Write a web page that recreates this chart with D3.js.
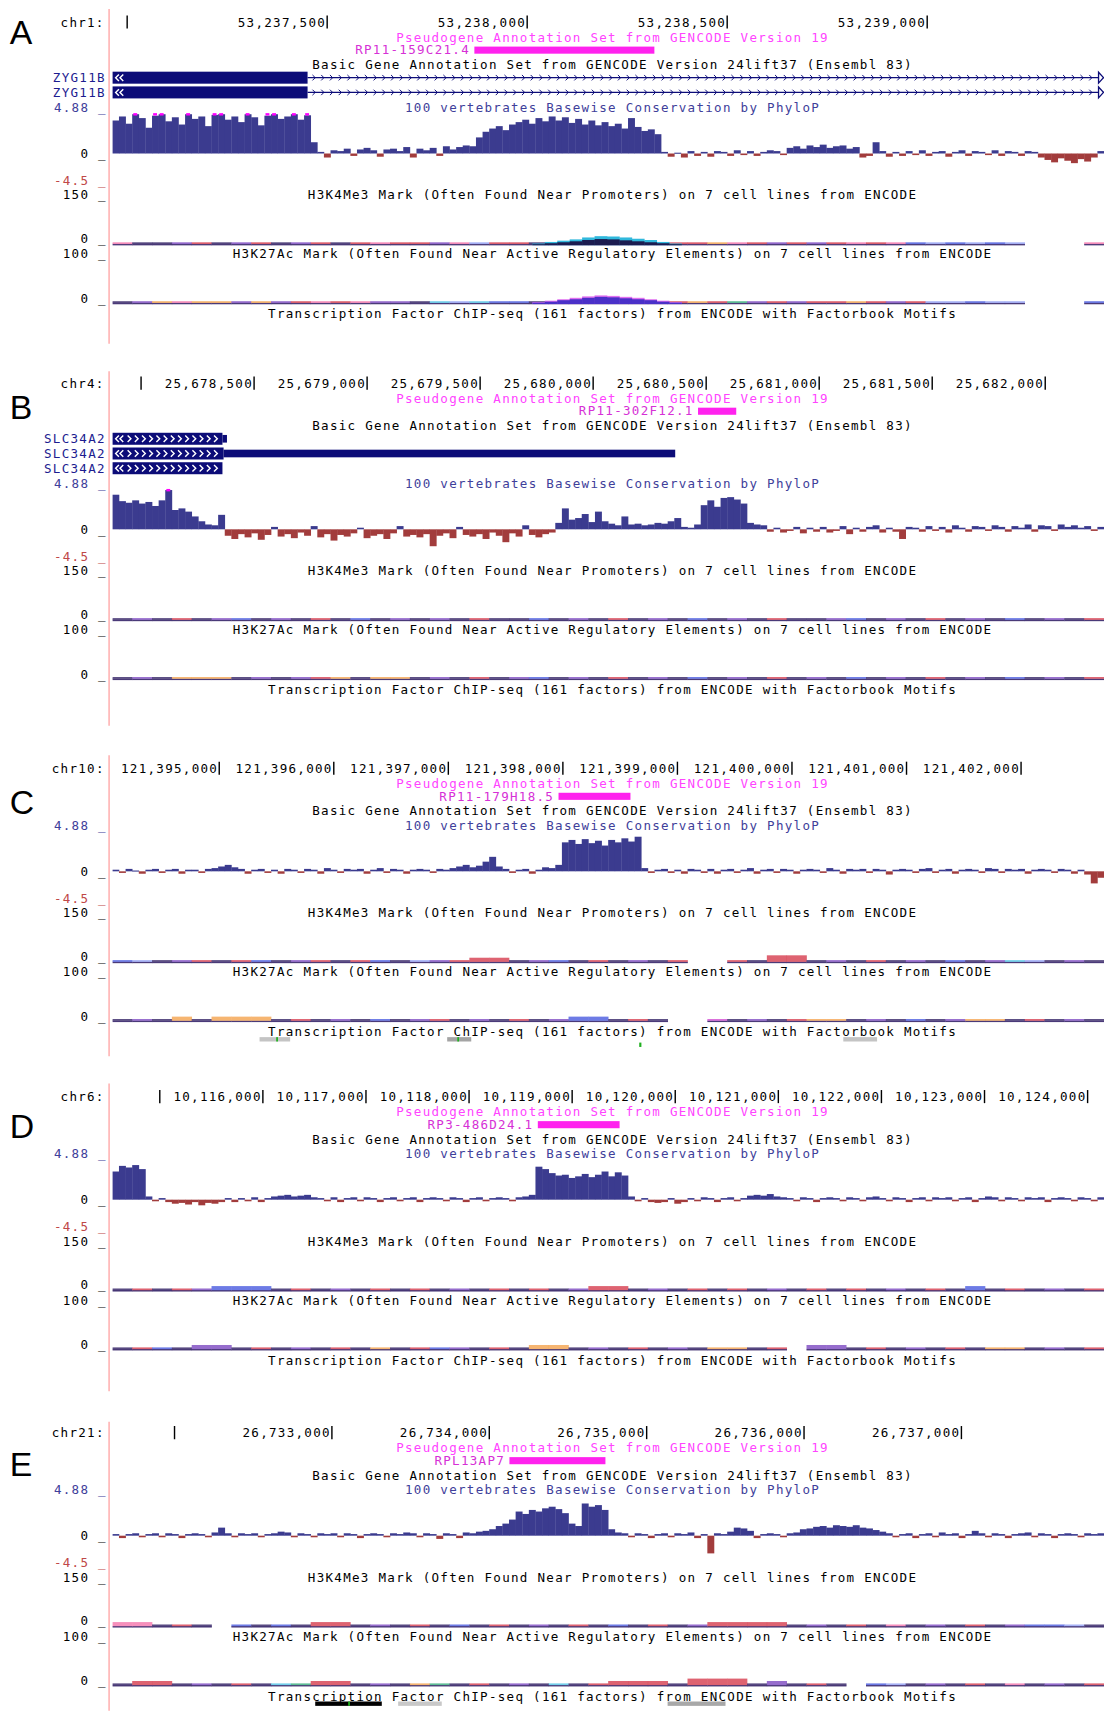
<!DOCTYPE html>
<html>
<head>
<meta charset="utf-8">
<script src="https://cdn.jsdelivr.net/npm/d3@7"></script>
<style>
body { margin: 0; background: #fff; }
svg text { font-family: "DejaVu Sans Mono", monospace; }
svg text.letter { font-family: "Liberation Sans", Arial, sans-serif; }
</style>
</head>
<body>
<div id="chart"></div>
<script>
// ---- data (one browser screenshot per panel) ----
const panelLetters = ["A", "B", "C", "D", "E"]
const chroms = ["chr1", "chr4", "chr10", "chr6", "chr21"]
const viewStart = [53236963, 25677873, 121394067, 10114540, 26731605]
const viewEnd = [53239442, 25682260, 121402724, 10124159, 26737906]
const tickStep = [500, 500, 1000, 1000, 1000]

const pseudoNames = ["RP11-159C21.4", "RP11-302F12.1", "RP11-179H18.5", "RP3-486D24.1", "RPL13AP7"]
const pseudoStart = [53237868, 25680464, 121397962, 10118667, 26734128]
const pseudoEnd = [53238318, 25680633, 121398590, 10119460, 26734738]

// basic gene models (only A and B have genes in view)
const genesA = [
    {name: "ZYG11B", exonEnd: 53237451, intron: true},
    {name: "ZYG11B", exonEnd: 53237451, intron: true}
]
const genesB = [
    {name: "SLC34A2", exonEnd: 25678360, utrEnd: 25678380},
    {name: "SLC34A2", exonEnd: 25678365, utrEnd: 25680363},
    {name: "SLC34A2", exonEnd: 25678360}
]

// phyloP, one value per equal window across the view
const phyloA = [4.1,4.6,3.7,4.88,4.4,3.2,4.7,4.88,4.0,4.5,3.6,4.88,4.3,4.6,3.4,4.8,4.88,4.2,4.6,3.9,4.88,4.5,3.5,4.7,4.88,4.3,4.6,4.88,4.2,4.75,
    1.4,
    0.2,-0.5,0.4,0.3,0.6,-0.3,0.5,0.7,0.4,-0.4,0.5,0.6,0.3,0.8,-0.5,0.6,0.4,0.7,-0.3,0.9,0.5,0.8,1.0,0.9,
    2.0,2.7,3.1,3.4,2.9,3.6,3.9,4.2,3.7,4.4,4.0,4.6,4.1,4.5,3.8,4.3,3.6,4.1,3.5,3.9,3.4,3.7,3.1,4.4,3.3,2.8,3.0,2.4,
    0.2,-0.4,0.1,-0.5,0.3,-0.3,0.2,-0.4,0.3,0.2,-0.3,0.4,-0.2,0.3,-0.3,0.2,0.4,0.3,-0.2,
    0.7,0.9,0.6,1.0,0.8,1.1,0.7,0.9,1.0,0.6,0.8,
    -0.5,-0.3,1.4,0.3,-0.4,0.2,-0.3,0.3,-0.2,0.4,-0.3,0.2,0.3,-0.4,0.2,0.4,-0.3,0.3,0.2,-0.2,0.4,-0.3,0.3,
    0.2,-0.3,0.3,0.2,
    -0.5,-0.8,-1.1,-0.6,-0.9,-1.2,-0.7,-1.0,-0.5,0.3]
const phyloB = [4.3,3.5,3.3,3.6,3.2,3.4,2.9,3.6,4.88,2.4,2.6,2.2,1.6,1.0,0.6,0.5,1.8,
    -0.8,-1.2,-0.6,-1.0,-0.5,-1.3,-0.7,0.3,-0.9,-0.6,-1.1,-0.4,-0.8,0.4,-1.0,-0.6,-1.4,-0.7,-0.9,-0.5,0.2,-1.1,-0.8,-0.6,-1.2,-0.5,0.4,-0.9,-0.7,-1.0,-0.6,-2.1,-0.8,-0.5,-1.1,0.3,-0.7,-0.9,-0.6,-1.2,-0.4,-0.8,-1.6,-0.5,-0.9,0.5,-0.7,-1.0,-0.6,-0.4,
    0.8,2.6,1.2,1.4,1.9,0.9,2.2,1.0,0.7,
    0.5,1.6,0.6,0.7,0.5,0.6,0.8,0.7,1.0,1.4,0.3,0.2,0.6,
    3.0,3.6,2.8,3.9,4.0,3.7,3.2,
    0.8,0.6,0.5,
    -0.3,0.2,-0.4,-0.2,0.3,-0.5,0.2,-0.3,0.3,-0.4,-0.2,0.4,-0.6,0.2,-0.3,0.3,0.5,-0.4,0.2,-0.3,-1.2,0.3,0.2,-0.3,0.4,-0.2,0.3,-0.4,0.5,0.2,-0.3,0.4,0.3,-0.2,0.5,0.3,-0.3,0.4,0.2,0.6,-0.3,0.5,0.4,-0.2,0.6,0.3,0.5,0.2,0.4,-0.2,0.3]
const phyloC = [0.2,-0.2,0.3,0.1,-0.3,0.2,0.3,-0.2,0.2,0.3,-0.3,0.2,0.2,-0.2,0.3,0.4,0.6,0.8,0.5,0.3,-0.3,0.2,0.3,-0.2,0.2,-0.3,0.3,0.2,-0.2,0.3,0.2,-0.3,0.4,0.2,-0.2,0.3,0.2,0.3,-0.3,0.2,0.4,-0.2,0.3,0.2,-0.3,0.2,0.3,0.2,-0.2,0.3,0.2,0.4,
    0.6,0.8,0.5,0.7,1.2,1.8,0.6,
    0.3,-0.2,0.2,0.3,-0.3,0.2,0.5,0.4,0.8,
    3.6,3.9,3.4,4.0,3.5,3.8,3.2,3.9,3.6,4.1,3.7,4.3,
    0.4,-0.2,0.2,0.3,-0.2,0.2,-0.3,0.3,0.2,-0.2,0.3,-0.3,0.2,0.3,-0.2,0.2,0.4,-0.3,0.2,0.3,-0.2,0.3,0.2,-0.3,0.2,0.3,0.2,-0.2,0.4,0.2,-0.3,0.3,0.2,0.3,-0.2,0.3,0.2,-0.4,0.2,0.3,0.2,-0.2,0.3,0.4,-0.2,0.2,0.3,-0.3,0.2,0.3,0.2,-0.2,0.4,0.3,-0.2,0.3,0.2,0.3,-0.3,0.2,0.3,0.2,-0.2,0.3,0.2,-0.3,0.2,-0.4,-1.5,-0.8]
const phyloD = [3.5,4.2,4.0,4.3,3.8,
    0.4,-0.2,0.2,-0.3,-0.5,-0.4,-0.6,-0.3,-0.7,-0.4,-0.5,-0.3,0.2,-0.3,0.2,-0.2,0.3,-0.3,0.2,0.4,0.5,0.6,0.4,0.5,0.6,0.3,0.2,-0.2,0.3,-0.3,0.2,0.3,-0.2,0.3,0.2,-0.3,0.2,0.3,-0.2,0.2,0.3,-0.3,0.2,0.3,0.2,-0.2,0.3,0.2,-0.3,0.2,0.3,-0.2,0.2,0.3,0.2,-0.2,0.3,0.4,0.6,
    4.1,3.8,3.3,3.0,3.1,2.7,2.9,3.2,2.8,3.1,3.5,2.9,3.4,3.0,
    0.4,-0.2,0.2,-0.3,-0.4,-0.3,0.2,-0.5,-0.3,0.2,-0.2,0.3,0.2,-0.3,0.2,0.3,-0.2,0.2,0.5,0.6,0.5,0.7,0.4,0.3,0.2,-0.2,0.3,0.2,-0.3,0.2,0.3,0.2,-0.2,0.3,0.2,-0.2,0.3,0.4,0.2,-0.2,0.3,0.2,-0.3,0.2,0.3,-0.2,0.3,0.2,0.3,-0.2,0.2,0.3,-0.3,0.2,0.4,0.3,-0.2,0.3,0.2,-0.2,0.3,0.2,0.3,-0.3,0.2,0.3,0.2,-0.2,0.3,0.2,-0.2,0.3]
const phyloE = [0.2,-0.3,0.2,0.3,-0.2,0.2,0.3,-0.2,0.3,0.2,-0.3,0.2,0.3,0.2,-0.2,0.4,1.0,0.3,-0.2,0.3,0.2,0.3,-0.2,0.2,0.3,0.5,0.4,-0.2,0.3,0.2,-0.2,0.3,0.2,0.3,-0.2,0.3,0.2,-0.3,0.2,0.3,0.2,-0.2,0.3,0.2,0.4,0.3,-0.2,0.3,0.2,-0.4,0.3,0.2,-0.3,0.4,0.3,0.5,
    0.6,0.8,1.2,1.5,2.0,
    3.0,2.7,3.2,3.0,3.4,3.6,3.3,2.8,
    1.5,1.2,
    4.0,3.6,3.8,3.2,
    0.8,
    0.4,0.3,-0.2,0.3,0.2,-0.3,0.2,0.3,-0.2,0.3,0.2,0.4,-0.3,0.2,-2.2,0.3,0.2,0.5,1.0,0.9,0.6,-0.3,0.2,0.3,0.2,-0.2,0.3,0.4,
    0.8,0.9,1.1,1.2,1.0,1.3,1.2,1.1,1.3,1.0,0.9,0.7,0.5,
    0.3,-0.2,0.2,0.3,-0.3,0.2,0.3,-0.2,0.4,0.2,0.3,-0.3,0.2,0.6,0.3,-0.2,0.3,0.2,-0.3,0.2,0.3,0.4,-0.2,0.3,0.2,-0.3,0.2,0.3,0.2,-0.2,0.3,0.2,0.3]

// ENCODE overlay tracks: dominant colour per window ("." = no data) and coarse level
const k4Colors = [
    "pnnurnurnurnrprruplrrnnnnnnnrroprururprpblblbl...p",
    "nunrnubnunrnbnununrnnbnunrnunbnunrnnubnunrnunbnunr",
    "blnurnrbnurnrbnlurrrnubnrnunr..rnrrnunrnunbnuclnun",
    "nrnrubbbnrnunrnrnunrnrnurrnunrnrnunrnrnunrnbnrnunr",
    "ppnrn.bnbnrrnunrnbnrnunrnbnrnurrrrnunrnpnunrnubbln"
]
const k4Levels = ["", "",
    "00000000000000000011000000000000022000000000000000",
    "00000111000000000000000011000000000000000001000000",
    "11000000001100000000000000000011110000000000000000"]
const k27Colors = [
    "nuopoouourprpuunclcbbnnnnnnnrorgururrorurllbll...b",
    "nunooonunuronoonunrnubnunrnunbnunrnunbnunrnunbnunr",
    "nunonooonrnunbnurnunrnubbnrn..mnunroonunbnuoonrnun",
    "nrbnuunrnunrnonrbunrnoonunrnunoonr.uunrnunrnoonunr",
    "nrrnunrncgrrnunognrnuncnrrrrnrrrnunrn.blnunrnpnunr"
]
const k27Levels = ["", "",
    "00010111000000000000000110000000000000000000000000",
    "00001100000000000000011000000000000110000000000000",
    "01100000001100000000000001110222010000000000000000"]

// panel A: the two histone peaks over the pseudogene
const peakStartA = 53238013
const peakEndA = 53238386
const k4CyanA = [5, 10, 14, 18, 24, 28, 27, 24, 20, 16, 10, 5]
const k4DarkA = [3, 6, 9, 12, 16, 19, 18, 15, 12, 9, 6, 3]
const k27PinkA = [4, 7, 10, 13, 16, 18, 17, 15, 13, 10, 7, 4]
const k27BlueA = [3, 5, 8, 10, 13, 15, 14, 12, 10, 8, 5, 3]

// TF clusters shown under the TF label (C and E)
const tfItemsC = [[121395352, 121395619, "#c4c4c4"], [121396990, 121397200, "#a4a4a4"], [121400448, 121400743, "#c4c4c4"]]
const tfMotifsC = [121395505, 121397086]
const tfItemsE = [[26732894, 26733317, "#000000"], [26733421, 26733698, "#c8c8c8"], [26735133, 26735501, "#a8a8a8"]]
const tfMotifsE = [26733109]

const phylo = [phyloA, phyloB, phyloC, phyloD, phyloE]
const genes = [genesA, genesB, [], [], []]
const tfItems = [[], [], tfItemsC, [], tfItemsE]
const tfMotifs = [[], [], tfMotifsC, [], tfMotifsE]

// ---- layout ----
const VW = 1012, VH = 1568
const X0 = 103, X1 = 1012
const chrY = [20, 351, 704, 1005, 1313]
const letterBase = [40, 384, 746, 1043, 1353]
const redLine = [[8, 315], [340, 665], [692, 968], [993, 1275], [1303, 1568]]
const CHAR = 8.0
const NAVY = "#0c0c78"
const lineColor = {n: "#3c2c6c", r: "#d84858", p: "#f47cb0", u: "#8454c4", b: "#5464e0",
    o: "#f4a858", c: "#5cc8e8", g: "#44b484", m: "#d454d4", l: "#98a4f4"}

const svg = d3.select("#chart").append("svg")
    .attr("width", 1104)
    .attr("height", 1711)
    .attr("viewBox", `0 0 ${VW} ${VH}`)

svg.append("defs").append("clipPath")
    .attr("id", "data-clip")
    .append("rect")
        .attr("x", X0).attr("y", 0)
        .attr("width", X1 - X0).attr("height", VH)

function label(parent, x, y, s, anchor, color) {
    return parent.append("text")
        .attr("x", x).attr("y", y)
        .attr("dy", "0.36em")
        .attr("text-anchor", anchor)
        .attr("fill", color || "#000")
        .attr("font-size", 11.5)
        .attr("letter-spacing", 1.18)
        .text(s)
}

function levelsOf(str, n) {
    return d3.range(n).map(j => +(str[j] || 0))
}

panelLetters.forEach((letter, i) => {
    const g = svg.append("g").attr("class", "panel-" + letter)
    const data = g.append("g").attr("clip-path", "url(#data-clip)")
    const x = d3.scaleLinear().domain([viewStart[i], viewEnd[i]]).range([X0, X1])
    const cy = chrY[i]

    // left border line
    g.append("line")
        .attr("x1", 100).attr("x2", 100)
        .attr("y1", redLine[i][0]).attr("y2", redLine[i][1])
        .attr("stroke", "#ffb0b0").attr("stroke-width", 1.4)

    g.append("text")
        .attr("class", "letter")
        .attr("x", 9).attr("y", letterBase[i])
        .attr("font-size", 31)
        .text(letter)

    // ruler
    label(g, 96, cy, chroms[i] + ":", "end")
    const ticks = d3.range(Math.ceil(viewStart[i] / tickStep[i]) * tickStep[i], viewEnd[i], tickStep[i])
    ticks.forEach(t => {
        const tx = x(t)
        data.append("line")
            .attr("x1", tx).attr("x2", tx)
            .attr("y1", cy - 6).attr("y2", cy + 6)
            .attr("stroke", "#000").attr("stroke-width", 1.3)
        const s = d3.format(",")(t)
        if (tx - s.length * CHAR - 3 >= X0) label(g, tx - 1, cy, s, "end")
    })

    // pseudogene track
    label(g, 561.5, cy + 14, "Pseudogene Annotation Set from GENCODE Version 19", "middle", "#ff44ff")
    const py = cy + 25.5
    data.append("rect")
        .attr("x", x(pseudoStart[i])).attr("y", py - 3)
        .attr("width", x(pseudoEnd[i]) - x(pseudoStart[i])).attr("height", 6.5)
        .attr("fill", "#ff22ee")
    label(g, x(pseudoStart[i]) - 4, py, pseudoNames[i], "end", "#d630d6")

    // basic gene track
    label(g, 561.5, cy + 39, "Basic Gene Annotation Set from GENCODE Version 24lift37 (Ensembl 83)", "middle", "#000")
    const nG = genes[i].length
    genes[i].forEach((gene, r) => {
        const ry = cy + 51 + 13.5 * r
        label(g, 97, ry, gene.name, "end", "#1c1c90")
        const bx = x(gene.exonEnd)
        if (gene.intron) {
            data.append("line")
                .attr("x1", bx).attr("x2", X1)
                .attr("y1", ry).attr("y2", ry)
                .attr("stroke", NAVY).attr("stroke-width", 1.2)
            const marks = d3.range(bx + 6, X1 - 8, 8)
            data.append("path")
                .attr("d", marks.map(m => `M${m - 1.5},${ry - 2.5}L${m + 1},${ry}L${m - 1.5},${ry + 2.5}`).join(""))
                .attr("fill", "none").attr("stroke", NAVY).attr("stroke-width", 0.9)
            g.append("path")
                .attr("d", `M${X1 - 5},${ry - 5}L${X1 - 0.5},${ry}L${X1 - 5},${ry + 5}Z`)
                .attr("fill", "#fff").attr("stroke", NAVY).attr("stroke-width", 1.2)
        }
        if (gene.utrEnd) {
            data.append("rect")
                .attr("x", bx).attr("y", ry - 3.5)
                .attr("width", x(gene.utrEnd) - bx).attr("height", 7)
                .attr("fill", NAVY)
        }
        data.append("rect")
            .attr("x", X0).attr("y", ry - 5.5)
            .attr("width", bx - X0).attr("height", 11)
            .attr("fill", NAVY)
        // strand chevrons drawn inside the exon block
        const chev = [X0 + 3, X0 + 7]
        let d = chev.map(c => `M${c + 3},${ry - 3}L${c},${ry}L${c + 3},${ry + 3}`).join("")
        if (!gene.intron) {
            d3.range(X0 + 14, bx - 4, 6.6).forEach(c => {
                d += `M${c},${ry - 3}L${c + 3},${ry}L${c},${ry + 3}`
            })
        }
        data.append("path").attr("d", d)
            .attr("fill", "none").attr("stroke", "#fff").attr("stroke-width", 1.3)
    })

    // phyloP track
    const phyY = nG ? cy + 51 + 13.5 * (nG - 1) + 14 : cy + 52.5
    const zeroY = phyY + 42
    const yP = d3.scaleLinear().domain([0, 4.88]).range([zeroY, zeroY - 36])
    label(g, 561.5, phyY, "100 vertebrates Basewise Conservation by PhyloP", "middle", "#40409a")
    label(g, 98, phyY, "4.88 _", "end", "#40409a")
    label(g, 98, zeroY, "0 _", "end")
    label(g, 98, phyY + 67, "-4.5 _", "end", "#c04848")
    const vals = phylo[i]
    const bw = (X1 - X0) / vals.length
    data.append("g").selectAll("rect")
        .data(vals)
        .join("rect")
            .attr("x", (d, j) => X0 + j * bw)
            .attr("width", bw + 0.3)
            .attr("y", d => d >= 0 ? yP(d) : zeroY)
            .attr("height", d => Math.max(1, Math.abs(yP(d) - zeroY)))
            .attr("fill", d => d >= 0 ? "#3b3b8f" : "#a23c3c")
    data.append("g").selectAll("rect")
        .data(vals.map((d, j) => [d, j]).filter(p => p[0] >= 4.7))
        .join("rect")
            .attr("x", p => X0 + p[1] * bw + 1)
            .attr("width", Math.max(1.5, bw - 2.5))
            .attr("y", yP(4.88) - 1)
            .attr("height", 2.2)
            .attr("fill", "#ff00ff")

    // H3K4Me3 and H3K27Ac overlay tracks
    const k4Base = phyY + 126
    const k27Base = phyY + 180
    label(g, 98, phyY + 80, "150 _", "end")
    label(g, 561.5, phyY + 80, "H3K4Me3 Mark (Often Found Near Promoters) on 7 cell lines from ENCODE", "middle")
    label(g, 98, phyY + 120, "0 _", "end")
    label(g, 98, phyY + 134, "100 _", "end")
    label(g, 561.5, phyY + 134, "H3K27Ac Mark (Often Found Near Active Regulatory Elements) on 7 cell lines from ENCODE", "middle")
    label(g, 98, phyY + 175, "0 _", "end")
    label(g, 561.5, phyY + 189, "Transcription Factor ChIP-seq (161 factors) from ENCODE with Factorbook Motifs", "middle")

    function overlayLine(colors, levels, base) {
        const n = colors.length
        const w = (X1 - X0) / n
        const lv = levelsOf(levels, n)
        const cells = d3.range(n).filter(j => colors[j] !== ".")
        // dark under-stroke where all cell lines overlap
        data.append("g").selectAll("rect")
            .data(cells)
            .join("rect")
                .attr("x", j => X0 + j * w)
                .attr("width", w + 0.3)
                .attr("y", base - 1.2)
                .attr("height", 1.4)
                .attr("fill", "#4a3a78")
        data.append("g").selectAll("rect")
            .data(cells)
            .join("rect")
                .attr("x", j => X0 + j * w)
                .attr("width", w + 0.3)
                .attr("y", j => base - 2.6 - lv[j] * 2.2)
                .attr("height", j => 1.6 + lv[j] * 2.2)
                .attr("fill", j => lineColor[colors[j]])
                .attr("opacity", 0.85)
    }
    overlayLine(k4Colors[i], k4Levels[i], k4Base)
    overlayLine(k27Colors[i], k27Levels[i], k27Base)

    if (i === 0) {
        const yK4 = d3.scaleLinear().domain([0, 150]).range([0, 44])
        const yK27 = d3.scaleLinear().domain([0, 100]).range([0, 44])
        const pw = (x(peakEndA) - x(peakStartA)) / k4CyanA.length
        const peak = (arr, scale, base, color) => data.append("g").selectAll("rect")
            .data(arr)
            .join("rect")
                .attr("x", (d, j) => x(peakStartA) + j * pw)
                .attr("width", pw + 0.3)
                .attr("y", d => base - scale(d))
                .attr("height", d => scale(d))
                .attr("fill", color)
        peak(k4CyanA, yK4, k4Base, "#30b8dc")
        peak(k4DarkA, yK4, k4Base, "#1c1c50")
        peak(k27PinkA, yK27, k27Base, "#e070f0")
        peak(k27BlueA, yK27, k27Base, "#4a30c8")
    }

    // TF clusters
    const tfY = phyY + 196
    tfItems[i].forEach(it => {
        data.append("rect")
            .attr("x", x(it[0])).attr("y", tfY - 2)
            .attr("width", x(it[1]) - x(it[0])).attr("height", 4)
            .attr("fill", it[2])
    })
    tfMotifs[i].forEach(m => {
        data.append("rect")
            .attr("x", x(m) - 0.8).attr("y", tfY - 2)
            .attr("width", 1.6).attr("height", 4)
            .attr("fill", "#20b020")
    })
})

// lone motif hit below the clusters in panel C
{
    const xC = d3.scaleLinear().domain([viewStart[2], viewEnd[2]]).range([X0, X1])
    svg.append("rect")
        .attr("x", xC(121398676) - 1).attr("y", 955.5)
        .attr("width", 2).attr("height", 4)
        .attr("fill", "#20b020")
}
</script>
</body>
</html>
